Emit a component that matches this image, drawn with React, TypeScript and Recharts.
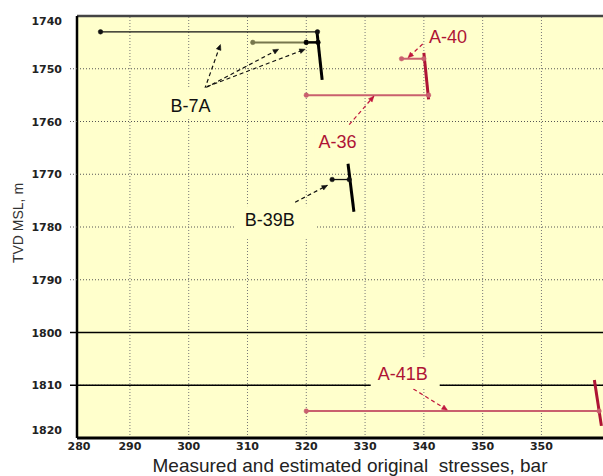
import React from "react";
import {
  ComposedChart,
  Line,
  XAxis,
  YAxis,
  CartesianGrid,
  ReferenceLine,
  ReferenceDot,
} from "recharts";

// ---------- axes ----------
const xTicks = [280, 290, 300, 310, 320, 330, 340, 350, 360];
const xTickLabels = ["280", "290", "300", "310", "320", "330", "340", "350", "350"];
const yTicks = [1740, 1750, 1760, 1770, 1780, 1790, 1800, 1810, 1820];
const solidDepths = [1800, 1810];
const xDomain = [281, 372];
const yDomain = [1740, 1820];

// ---------- B-7A ----------
const b7aUpper = [
  { x: 285, y: 1743 },
  { x: 321.9, y: 1743 },
];
const b7aLowerGrey = [
  { x: 310.9, y: 1745 },
  { x: 320, y: 1745 },
];
const b7aLowerBlack = [
  { x: 320, y: 1745 },
  { x: 322, y: 1745 },
];
const b7aTrend = [
  { x: 321.8, y: 1742.8 },
  { x: 322.7, y: 1752.1 },
];
// ---------- B-39B ----------
const b39bPoints = [
  { x: 324.4, y: 1771 },
  { x: 327.3, y: 1771 },
];
const b39bTrend = [
  { x: 327.1, y: 1768 },
  { x: 328.1, y: 1777.1 },
];
// ---------- A-40 ----------
const a40Points = [
  { x: 336.2, y: 1748.1 },
  { x: 340, y: 1748.1 },
];
const a40Trend = [
  { x: 340, y: 1747 },
  { x: 340.8, y: 1755.8 },
];
// ---------- A-36 ----------
const a36Points = [
  { x: 320, y: 1755 },
  { x: 340.8, y: 1755 },
];
// ---------- A-41B ----------
const a41bPoints = [
  { x: 320, y: 1814.9 },
  { x: 369.8, y: 1814.9 },
];
const a41bTrend = [
  { x: 369.0, y: 1809 },
  { x: 370.2, y: 1817.7 },
];

// ---------- callout arrows [fromX, fromY, toX, toY] ----------
const blackArrows = [
  [302.7, 1753.9, 305.4, 1745.4],
  [302.9, 1753.6, 315.3, 1746.3],
  [303.1, 1753.4, 319.8, 1746.3],
  [318.1, 1775.3, 323.6, 1772.1],
];
const redArrows = [
  [327.3, 1760.6, 331.5, 1755.2],
  [339.8, 1745.3, 337.3, 1747.9],
  [337.2, 1810, 344, 1814.7],
];

// ---------- well labels ----------
const wellNames = ["B-7A", "A-40", "A-36", "B-39B", "A-41B"];
const wellLabelX = [300.3, 344.1, 325.3, 313.8, 336.4];
const wellLabelY = [1756.9, 1743.9, 1763.8, 1778.6, 1807.8];

// ---------- styles ----------
const BG = "#FFFFCC";
const RED = "#AE1435";
const RED_THIN = "#C9606E";
const PLOT_LEFT = 69;
const TICK_FONT = "'DejaVu Sans', Verdana, sans-serif";
const LABEL_FONT = "'Liberation Sans', Arial, sans-serif";
const labelStyle: Record<string, { color: string; w: number; h: number; dx: number; dy: number }> = {
  "B-7A": { color: "#111", w: 58, h: 31, dx: 0, dy: -2 },
  "A-40": { color: RED, w: 46, h: 24, dx: 0, dy: 0 },
  "A-36": { color: RED, w: 46, h: 24, dx: 0, dy: 0 },
  "B-39B": { color: "#111", w: 82, h: 33, dx: 6, dy: 3 },
  "A-41B": { color: RED, w: 69, h: 30, dx: 2.5, dy: 0 },
};

const makeArrow = (color: string) => (props: any) => {
  const { x1, y1, x2, y2 } = props;
  if ([x1, y1, x2, y2].some((v) => typeof v !== "number" || isNaN(v))) return <g />;
  const a = Math.atan2(y2 - y1, x2 - x1);
  const L = 6;
  const s = 0.42;
  const p1 = [x2 - L * Math.cos(a - s), y2 - L * Math.sin(a - s)];
  const p2 = [x2 - L * Math.cos(a + s), y2 - L * Math.sin(a + s)];
  return (
    <g>
      <line x1={x1} y1={y1} x2={x2} y2={y2} stroke={color} strokeWidth={1.2} strokeDasharray="4 3" />
      <polygon points={`${x2},${y2} ${p1[0]},${p1[1]} ${p2[0]},${p2[1]}`} fill={color} stroke={color} strokeWidth={0.5} />
    </g>
  );
};

const makeLabel = (name: string) => (props: any) => {
  const { cx, cy } = props;
  const st = labelStyle[name];
  return (
    <g>
      <rect x={cx - st.w / 2 + st.dx} y={cy - st.h / 2 + st.dy} width={st.w} height={st.h} fill={BG} />
      <text x={cx} y={cy + 6.5} textAnchor="middle" fontFamily={LABEL_FONT} fontSize={18} fill={st.color}>
        {name}
      </text>
    </g>
  );
};

const YTick = (props: any) => {
  const { y, payload, index } = props;
  const v = payload.value;
  const solid = solidDepths.includes(v);
  const last = yTicks.length - 1;
  const shift = index === 0 ? 5 : index === last ? -8 : 0;
  return (
    <g>
      {index > 0 && index < last && (
        <line
          x1={PLOT_LEFT - 7}
          x2={PLOT_LEFT}
          y1={y}
          y2={y}
          stroke={solid ? "#000" : "#555"}
          strokeWidth={solid ? 1.5 : 1}
          strokeDasharray={solid ? undefined : "1 2"}
        />
      )}
      <text x={PLOT_LEFT - 15} y={y + shift + 4} textAnchor="end" fontFamily={TICK_FONT} fontWeight="bold" fontSize={11} fill="#222">
        {v}
      </text>
    </g>
  );
};

const XTick = (props: any) => {
  const { x, payload, index } = props;
  const px = Math.max(x, PLOT_LEFT + 2);
  const i = xTicks.indexOf(payload.value);
  return (
    <text x={px} y={442} textAnchor="middle" fontFamily={TICK_FONT} fontWeight="bold" fontSize={11} fill="#222">
      {xTickLabels[i >= 0 ? i : index]}
    </text>
  );
};

const XTitle = () => (
  <text x={342} y={463.5} textAnchor="middle" fontFamily={LABEL_FONT} fontSize={19} fill="#222" style={{ whiteSpace: "pre" }}>
    {"Measured and estimated original  stresses, bar"}
  </text>
);
const YTitle = () => (
  <text x={15} y={215} textAnchor="middle" transform="rotate(-90 15 215)" fontFamily={LABEL_FONT} fontSize={14} fill="#333">
    TVD MSL, m
  </text>
);

export default function App() {
  const thin = (data: any[], color: string, key: string, width = 1.3) => (
    <Line
      key={key}
      data={data}
      dataKey="y"
      type="linear"
      stroke={color}
      strokeWidth={width}
      dot={{ r: 2.3, fill: color, stroke: color, strokeWidth: 0.5 }}
      activeDot={false}
      isAnimationActive={false}
    />
  );
  const thick = (data: any[], color: string, key: string) => (
    <Line key={key} data={data} dataKey="y" type="linear" stroke={color} strokeWidth={3} dot={false} activeDot={false} isAnimationActive={false} />
  );
  return (
    <div style={{ position: "fixed", left: 8, top: 8, width: 595, height: 468, overflow: "hidden", background: "#fff" }}>
      <ComposedChart width={608} height={468} margin={{ top: 8, right: 4, bottom: 0, left: 0 }}>
        <CartesianGrid fill={BG} vertical={false} horizontal={true} stroke="#555" strokeDasharray="1 2" />
        {xTicks.map((t) => (
          <ReferenceLine key={"vx" + t} x={t} stroke="#777" strokeDasharray="1 2" />
        ))}
        {solidDepths.map((d) => (
          <ReferenceLine key={"sd" + d} y={d} stroke="#000" strokeWidth={1.5} />
        ))}
        <ReferenceLine y={1740} stroke="#444" strokeWidth={2.5} />
        <XAxis
          type="number"
          dataKey="x"
          domain={xDomain}
          allowDataOverflow
          ticks={xTicks}
          interval={0}
          tick={<XTick />}
          tickLine={false}
          axisLine={{ stroke: "#000", strokeWidth: 3 }}
          height={38}
          label={<XTitle />}
        />
        <YAxis
          type="number"
          domain={yDomain}
          allowDataOverflow
          reversed
          ticks={yTicks}
          interval={0}
          tick={<YTick />}
          tickLine={false}
          axisLine={{ stroke: "#000", strokeWidth: 2.5 }}
          width={69}
          label={<YTitle />}
        />
        {thin(b7aUpper, "#111", "b7aU")}
        {thin(b7aLowerGrey, "#77774d", "b7aG", 2)}
        {thin(b7aLowerBlack, "#000", "b7aB", 2.5)}
        {thin(b39bPoints, "#111", "b39")}
        {thin(a40Points, RED_THIN, "a40", 2)}
        {thin(a36Points, RED_THIN, "a36", 2)}
        {thin(a41bPoints, RED_THIN, "a41", 2)}
        {thick(b7aTrend, "#000", "b7aT")}
        {thick(b39bTrend, "#000", "b39T")}
        {thick(a40Trend, RED, "a40T")}
        {thick(a41bTrend, RED, "a41T")}
        {blackArrows.map((a, i) => (
          <ReferenceLine
            key={"ba" + i}
            segment={[
              { x: a[0], y: a[1] },
              { x: a[2], y: a[3] },
            ]}
            shape={makeArrow("#111")}
          />
        ))}
        {redArrows.map((a, i) => (
          <ReferenceLine
            key={"ra" + i}
            segment={[
              { x: a[0], y: a[1] },
              { x: a[2], y: a[3] },
            ]}
            shape={makeArrow("#C0183E")}
          />
        ))}
        {wellNames.map((n, i) => (
          <ReferenceDot key={n} x={wellLabelX[i]} y={wellLabelY[i]} r={0} shape={makeLabel(n)} zIndex={1500} />
        ))}
      </ComposedChart>
    </div>
  );
}
